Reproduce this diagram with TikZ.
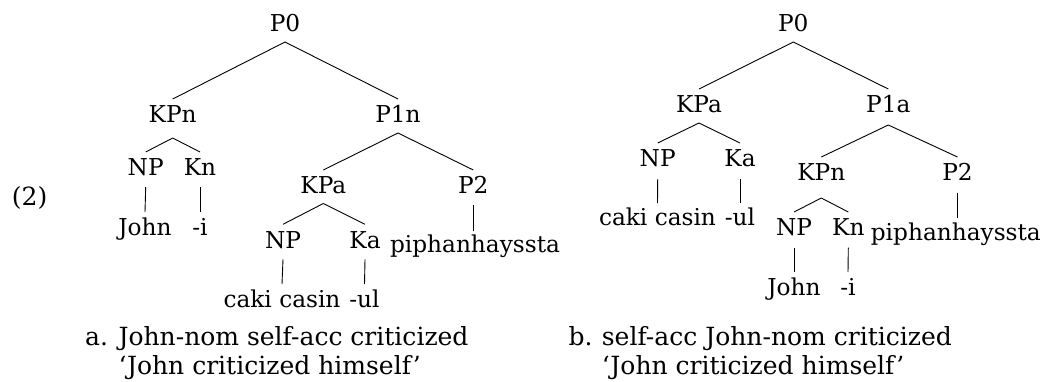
\documentclass[tikz,border=0pt]{standalone}
\usepackage{fontspec}
\setmainfont{DejaVu Serif}
\usetikzlibrary{calc}
\newlength\treewd
\newlength\capwd
\newcommand\treefont{\fontsize{\tfs pt}{\tfs pt}\selectfont}
\newcommand\capfont{\fontsize{\cfs pt}{\cfs pt}\selectfont}
\newcommand\br[4]{\draw[branch] ([yshift=-#2pt]#1.base) -- ([yshift=#4pt]#3.base);}
\begin{document}
\settowidth\treewd{\fontsize{10pt}{12pt}\selectfont NPJohnKPa}%
\settowidth\capwd{\fontsize{10pt}{12pt}\selectfont John-nom self-acc criticized}%
\pgfmathsetmacro\tfs{10*135/\treewd}%
\pgfmathsetmacro\cfs{10*350/\capwd}%
\begin{tikzpicture}[x=1pt,y=-1pt,
  lab/.style={inner sep=0pt, anchor=base, font=\treefont},
  captext/.style={inner sep=0pt, anchor=base west, font=\capfont},
  branch/.style={line width=0.9pt, black}]
\useasboundingbox (0,0) rectangle (1043,381);
% ---------- left tree ----------
\node[lab] (lP0)  at (285,31)    {P0};
\node[lab] (lKPn) at (172.7,122) {KPn};
\node[lab] (lP1n) at (398,122)   {P1n};
\node[lab] (lNP)  at (145.7,175) {NP};
\node[lab] (lKn)  at (200,175)   {Kn};
\node[lab] (lJohn) at (145,235)  {John};
\node[lab] (li)   at (200,235)   {-i};
\node[lab] (lKPa) at (323.3,193) {KPa};
\node[lab] (lP2)  at (473.3,193) {P2};
\node[lab] (lNPb) at (283,248.3) {NP};
\node[lab] (lKa)  at (365,248.3) {Ka};
\node[lab] (lpip) at (475,252) {piphanhayssta};
\node[lab] (lcaki) at (282,307)  {caki casin};
\node[lab] (lul)  at (364.5,307) {-ul};
\coordinate (lpipt) at (lP2.base |- lpip.base);
\br{lP0}{11}{lKPn}{23}
\br{lP0}{11}{lP1n}{23}
\br{lKPn}{16}{lNP}{23}
\br{lKPn}{16}{lKn}{23}
\br{lNP}{12}{lJohn}{23}
\br{lKn}{12}{li}{23}
\br{lP1n}{11}{lKPa}{23}
\br{lP1n}{11}{lP2}{23}
\br{lKPa}{10.5}{lNPb}{24}
\br{lKPa}{10.5}{lKa}{24}
\br{lP2}{12}{lpipt}{21.5}
\br{lNPb}{11}{lcaki}{23}
\br{lKa}{11}{lul}{23}
% ---------- right tree ----------
\node[lab] (rP0)  at (793.3,31)  {P0};
\node[lab] (rKPa) at (699,112)   {KPa};
\node[lab] (rP1a) at (888.3,112) {P1a};
\node[lab] (rNP)  at (657.7,166) {NP};
\node[lab] (rKa)  at (740,166)   {Ka};
\node[lab] (rcaki) at (657.5,225) {caki casin};
\node[lab] (rul)  at (740,225)   {-ul};
\node[lab] (rKPn) at (821.3,180) {KPn};
\node[lab] (rP2)  at (957.5,180) {P2};
\node[lab] (rNPb) at (794,235)   {NP};
\node[lab] (rKn)  at (848.3,235) {Kn};
\node[lab,anchor=base east] (rpip) at (1041,240) {piphanhayssta};
\node[lab] (rJohn) at (794,295)  {John};
\node[lab] (ri)   at (848,295)   {-i};
\coordinate (rpipt) at (rP2.base |- rpip.base);
\br{rP0}{11}{rKPa}{23}
\br{rP0}{11}{rP1a}{23}
\br{rKPa}{11}{rNP}{23}
\br{rKPa}{11}{rKa}{23}
\br{rNP}{13}{rcaki}{22}
\br{rKa}{13}{rul}{22}
\br{rP1a}{13}{rKPn}{23}
\br{rP1a}{13}{rP2}{23}
\br{rKPn}{18}{rNPb}{23}
\br{rKPn}{18}{rKn}{23}
\br{rP2}{12.5}{rpipt}{22.5}
\br{rNPb}{12.5}{rJohn}{23}
\br{rKn}{12.5}{ri}{23}
% ---------- captions ----------
\node[captext] (ex)  at (11.7,205)  {(2)};
\node[captext] (la)  at (85,345)    {a.};
\node[captext] (la1) at (118.3,345) {John-nom self-acc criticized};
\node[captext] (la2) at (118.3,374) {‘John criticized himself’};
\node[captext] (rb)  at (568.3,345) {b.};
\node[captext] (rb1) at (601.7,345) {self-acc John-nom criticized};
\node[captext] (rb2) at (601.7,374) {‘John criticized himself’};
\end{tikzpicture}
\end{document}
